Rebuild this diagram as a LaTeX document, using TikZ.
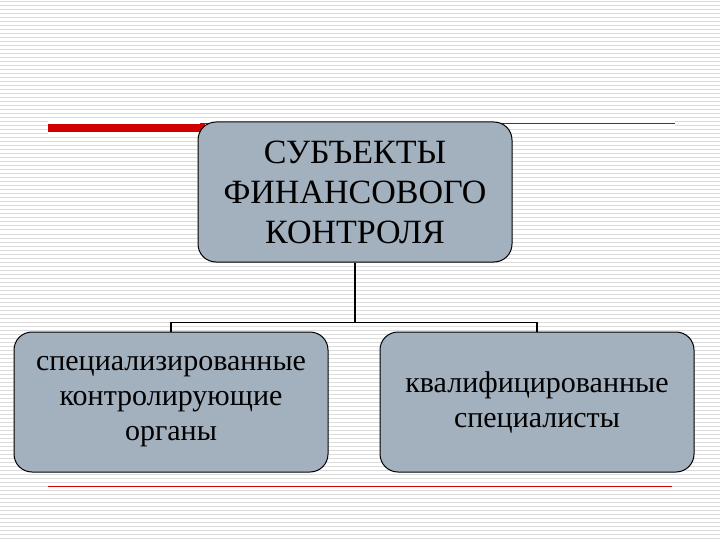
\documentclass[tikz,border=0pt]{standalone}
\usepackage{fontspec}
\setmainfont{Liberation Serif}
\definecolor{boxfill}{HTML}{A3B0BE}
\definecolor{stripe}{HTML}{DCDCDC}
\definecolor{redl}{HTML}{D00000}
\begin{document}
\begin{tikzpicture}[x=1pt,y=-1pt,
  box/.style={draw=black,line width=1pt,fill=boxfill,rounded corners=18pt,align=center,inner sep=0pt},
  conn/.style={draw=black,line width=1.5pt}]
\useasboundingbox (0,0) rectangle (720,540);
\fill[white] (0,0) rectangle (720,540);
\foreach \y in {2,6,...,538} \draw[stripe,line width=1pt] (0,\y) -- (720,\y);
\fill[white] (48,119) rectangle (200,137);
\fill[white] (200,120) rectangle (675,126);
\fill[white] (48,483) rectangle (672,489);
\draw[redl,line width=8pt] (48,128) -- (205,128);
\draw[redl,line width=0.8pt] (200,123) -- (675,123);
\draw[redl,line width=0.8pt] (48,486) -- (672,486);
\node[box,minimum width=314pt,minimum height=140pt,font=\fontsize{34}{40}\selectfont] (top) at (355,192) {СУБЪЕКТЫ\\ФИНАНСОВОГО\\КОНТРОЛЯ};
\node[box,minimum width=314pt,minimum height=140pt,font=\fontsize{30}{35}\selectfont] (l) at (171,402) {специализированные\\контролирующие\\органы};
\node[box,minimum width=314pt,minimum height=140pt,font=\fontsize{30}{35}\selectfont] (r) at (537,402) {квалифицированные\\специалисты};
\coordinate (j) at (355,323);
\draw[conn] (top.south) -- (j);
\draw[conn] (l.north) -- ++(0,-9) -| (r.north);
\end{tikzpicture}
\end{document}
